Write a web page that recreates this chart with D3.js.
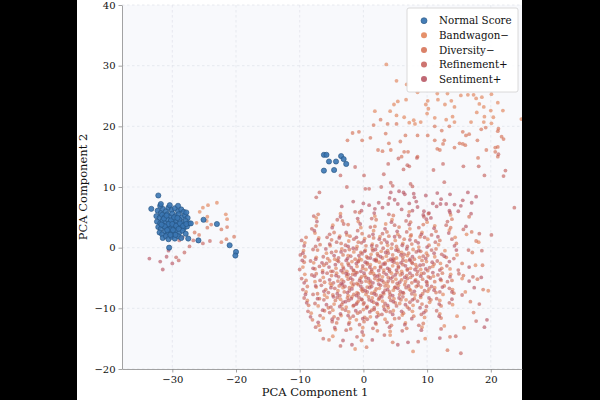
<!DOCTYPE html>
<html>
<head>
<meta charset="utf-8">
<script src="https://cdn.jsdelivr.net/npm/d3@7"></script>
<style>
  html, body { margin: 0; padding: 0; background: #000; }
  svg { display: block; }
  text { font-family: "DejaVu Serif", serif; fill: #111; }
</style>
</head>
<body>
<svg id="chart" width="600" height="400"></svg>
<script>
// series names, as in the legend
var seriesNames = ["Normal Score", "Bandwagon\u2212", "Diversity\u2212", "Refinement+", "Sentiment+"];
var seriesColors = ["#3a76b2", "#e07c50", "#d46b4d", "#c45c57", "#b44e5c"];

var xTicks = [-30, -20, -10, 0, 10, 20];
var yTicks = [-20, -10, 0, 10, 20, 30, 40];

// [pc1, pc2]
var normalScore = [
  [-32.3,6.1],[-31.8,5.7],[-31.5,6.4],[-31.0,6.0],[-30.6,6.6],[-30.1,6.2],[-29.6,6.5],[-29.1,6.0],[-28.6,6.3],[-28.2,5.9],
  [-32.5,5.2],[-32.0,4.9],[-31.6,5.4],[-31.2,5.0],[-30.8,5.5],[-30.4,5.1],[-30.0,5.6],[-29.5,5.2],[-29.0,5.5],[-28.5,5.0],[-28.0,5.3],[-27.6,4.9],
  [-32.4,4.3],[-31.9,4.0],[-31.5,4.5],[-31.1,4.1],[-30.7,4.6],[-30.3,4.2],[-29.8,4.7],[-29.4,4.3],[-28.9,4.6],[-28.4,4.1],[-27.9,4.4],[-27.4,4.0],
  [-32.2,3.4],[-31.8,3.1],[-31.4,3.6],[-30.9,3.2],[-30.5,3.7],[-30.1,3.3],[-29.6,3.8],[-29.2,3.4],[-28.7,3.7],[-28.2,3.2],[-27.7,3.5],
  [-32.0,2.5],[-31.6,2.2],[-31.1,2.7],[-30.7,2.3],[-30.3,2.8],[-29.8,2.4],[-29.4,2.9],[-28.9,2.5],[-28.4,2.8],[-27.9,2.3],
  [-31.5,1.6],[-31.0,1.9],[-30.6,1.4],[-30.1,1.8],[-29.6,1.5],[-29.1,1.9],[-28.6,1.6],
  [-31.3,4.8],[-30.9,5.3],[-30.2,4.5],[-29.7,5.0],[-29.2,4.9],[-30.6,3.9],[-30.0,3.9],[-29.4,3.6],[-31.2,3.5],[-30.4,3.0],
  [-29.9,2.9],[-29.0,3.1],[-28.8,4.0],[-31.7,3.8],[-30.8,2.9],[-29.5,2.1],[-30.3,2.1],[-28.3,3.6],[-27.8,3.9],
  [-31.9,6.9],[-30.4,7.0],[-29.1,6.9],
  [-32.2,8.6],[-31.8,7.2],[-33.3,6.4],[-25.1,4.6],[-23.0,3.9],[-27.5,1.5],[-25.9,1.2],[-30.5,0.0],
  [-21.0,0.4],[-20.0,-0.7],[-20.1,-1.3],[-27.1,4.0],[-27.8,5.8],
  [-6.2,15.3],[-5.8,15.3],[-3.5,15.1],[-3.1,14.6],[-5.4,14.2],[-4.3,14.2],[-2.7,13.8],[-6.2,12.7],[-4.6,12.8]
];

var bandwagon = [
  [3.6,30.2],[5.2,27.5],[6.8,26.9],[8.5,25.6],[11.6,25.4],[13.2,25.4],[15.3,25.1],[16.4,25.2],[17.3,25.2],[17.7,24.6],
  [20.1,25.3],[11.7,24.4],[10.1,24.2],[6.7,24.4],[5.4,24.1],[4.8,23.6],[9.8,23.6],[12.8,23.6],[13.8,24.2],[18.6,24.8],
  [18.2,23.7],[21.1,23.9],[18.9,23.2],[20.0,22.6],[21.9,22.6],[10.2,22.9],[14.3,23.2],[1.8,22.5],[4.2,22.5],[5.2,21.8],
  [10.0,22.1],[17.8,22.3],[19.0,21.6],[20.4,21.5],[6.4,21.5],[7.2,20.6],[8.1,20.4],[7.9,21.0],[9.0,20.7],[11.2,21.4],
  [13.0,21.1],[14.0,21.6],[14.3,20.7],[16.9,20.7],[18.9,20.7],[20.1,20.5],[24.8,21.2],
  [-7.4,4.9],[-3.6,5.6],[-0.8,4.3],[1.8,5.2],[4.5,4.6],[7.2,5.9],[10.0,4.2],[13.7,5.4],
  [-7.6,2.4],[-4.8,3.7],[-2.6,2.1],[-0.4,3.3],[1.6,2.8],[3.5,3.9],[5.4,2.2],[7.3,3.1],[9.2,2.5],[11.2,3.6],[13.5,2.9],[16.2,2.2],
  [-9.2,0.8],[-7.0,1.6],[-5.2,0.3],[-3.7,1.9],[-2.3,1.1],[-1.0,0.2],[0.2,1.5],[1.4,0.6],[2.6,1.8],[3.8,0.4],[5.0,1.2],[6.2,0.7],
  [7.4,1.9],[8.7,0.1],[10.1,1.4],[11.8,0.5],[14.4,1.7],[18.1,0.9],
  [-9.4,-0.5],[-7.4,-1.6],[-5.8,-0.9],[-4.5,-1.9],[-3.4,-0.2],[-2.4,-1.3],[-1.5,-0.7],[-0.6,-1.8],[0.3,-0.4],[1.2,-1.1],[2.0,-1.9],[2.8,-0.6],
  [3.6,-1.4],[4.4,-0.1],[5.2,-1.7],[6.0,-0.8],[6.9,-1.3],[7.8,-0.3],[8.8,-1.6],[9.9,-0.9],[11.2,-1.5],[12.8,-0.5],[14.7,-1.2],
  [-9.5,-3.2],[-7.8,-2.5],[-6.4,-3.8],[-5.3,-2.2],[-4.3,-3.4],[-3.4,-2.7],[-2.6,-3.9],[-1.8,-2.3],[-1.0,-3.1],[-0.3,-2.0],[0.4,-3.6],[1.1,-2.8],
  [1.8,-3.3],[2.5,-2.4],[3.2,-3.7],[3.9,-2.1],[4.6,-3.0],[5.3,-2.6],[6.0,-3.9],[6.7,-2.2],[7.4,-3.4],[8.2,-2.8],[9.0,-3.6],[9.9,-2.3],
  [10.9,-3.1],[12.1,-2.6],[13.6,-3.5],[17.6,-2.9],
  [-9.2,-4.4],[-7.6,-5.6],[-6.3,-4.9],[-5.2,-5.9],[-4.2,-4.2],[-3.4,-5.3],[-2.6,-4.7],[-1.9,-5.8],[-1.2,-4.1],[-0.5,-5.1],[0.2,-4.6],[0.9,-5.7],
  [1.6,-4.3],[2.3,-5.4],[3.0,-4.8],[3.7,-5.9],[4.4,-4.2],[5.1,-5.2],[5.8,-4.5],[6.6,-5.6],[7.4,-4.9],[8.2,-5.3],[9.1,-4.3],[10.0,-5.8],
  [11.0,-4.7],[12.2,-5.4],[13.7,-4.4],[15.5,-5.1],
  [-9.0,-7.3],[-7.4,-6.5],[-6.1,-7.8],[-5.0,-6.2],[-4.0,-7.1],[-3.2,-6.6],[-2.4,-7.9],[-1.7,-6.3],[-1.0,-7.4],[-0.3,-6.9],[0.4,-7.7],[1.1,-6.1],
  [1.8,-7.2],[2.5,-6.7],[3.2,-7.6],[3.9,-6.4],[4.7,-7.0],[5.5,-6.2],[6.3,-7.5],[7.2,-6.8],[8.1,-7.8],[9.1,-6.5],[10.1,-7.2],[11.2,-6.6],
  [12.5,-7.7],[14.0,-6.9],[16.0,-7.3],[19.6,-7.1],
  [-8.8,-8.7],[-7.1,-9.6],[-5.7,-8.2],[-4.6,-9.3],[-3.6,-8.5],[-2.7,-9.8],[-1.8,-8.1],[-1.0,-9.1],[-0.2,-8.6],[0.6,-9.7],[1.4,-8.3],
  [2.2,-9.4],[3.0,-8.8],[3.9,-9.9],[4.8,-8.4],[5.7,-9.2],[6.7,-8.6],[7.8,-9.5],[9.0,-8.2],[10.4,-9.0],[12.0,-8.7],[14.0,-9.4],
  [-8.2,-10.8],[-6.3,-11.6],[-4.8,-10.3],[-3.5,-11.2],[-2.3,-10.6],[-1.1,-11.9],[0.0,-10.2],[1.1,-11.4],[2.2,-10.7],[3.4,-11.8],
  [4.7,-10.4],[6.1,-11.1],[7.7,-10.5],[9.6,-11.5],[12.0,-10.9],[14.7,-11.3],
  [-7.0,-12.8],[-4.4,-13.5],[-2.2,-12.3],[-0.1,-13.2],[2.0,-12.6],[4.2,-13.8],[6.6,-12.4],[9.2,-13.1],[12.7,-12.9],
  [-4.8,-14.6],[-0.3,-15.3],[4.2,-14.4],[9.7,-15.0],[-1.3,-16.7],[7.8,-17.1],
  [-23.0,7.4],[-24.4,7.0],[-25.2,6.6],[-25.7,5.9],[-21.6,5.5],[-24.5,5.1],[-21.4,4.7],[-24.6,4.4],[-26.2,4.1]
];

var diversity = [
  [21.1,19.2],[21.2,19.6],[21.7,18.3],[22.0,17.9],[-1.7,18.9],[-0.7,19.1],[1.1,18.1],[-2.5,17.7],[-0.2,17.7],[3.5,18.8],
  [4.0,17.2],[5.8,17.5],[6.6,18.5],[8.5,18.5],[10.1,18.5],[11.2,17.7],[12.7,17.7],[15.1,17.2],[16.1,18.5],[16.6,18.7],
  [17.9,17.7],[20.7,16.5],[20.7,15.8],[21.1,16.6],[19.3,16.1],[15.6,17.1],[2.3,16.1],[3.0,15.9],[4.3,16.1],[6.4,15.8],
  [11.6,16.3],[12.0,16.1],[14.3,16.5],[16.0,16.9],[6.0,15.0],[8.5,15.0],[18.0,14.8],[21.1,15.0],[2.7,21.1],[3.8,20.4],
  [1.6,20.2],[5.2,20.4],[11.2,20.0],[12.3,19.3],[13.5,20.0],[15.6,19.1],[18.5,19.5],[19.2,19.8],[7.0,15.8],[12.5,17.1],
  [-7.1,5.5],[-3.3,4.4],[-0.6,5.8],[2.0,4.6],[4.7,5.3],[7.4,4.2],[10.2,5.6],[13.9,4.7],[16.6,5.1],
  [-7.4,3.6],[-4.6,2.5],[-2.4,3.8],[-0.2,2.3],[1.8,3.5],[3.7,2.6],[5.6,3.4],[7.5,2.1],[9.4,3.8],[11.4,2.7],[13.7,3.3],[17.0,2.6],
  [-9.0,1.7],[-6.8,0.5],[-5.0,1.3],[-3.5,0.7],[-2.1,1.9],[-0.8,0.9],[0.4,0.3],[1.6,1.6],[2.8,0.8],[4.0,1.9],[5.2,0.2],[6.4,1.4],
  [7.6,0.6],[8.9,1.8],[10.3,0.4],[12.0,1.2],[14.6,0.7],[17.7,1.1],
  [-9.2,-1.5],[-7.2,-0.4],[-5.6,-1.8],[-4.3,-0.6],[-3.2,-1.2],[-2.2,-0.3],[-1.3,-1.9],[-0.4,-0.8],[0.5,-1.5],[1.4,-0.2],[2.2,-1.0],[3.0,-1.7],
  [3.8,-0.5],[4.6,-1.2],[5.4,-0.3],[6.2,-1.6],[7.1,-0.9],[8.0,-1.9],[9.0,-0.6],[10.1,-1.3],[11.4,-0.2],[13.0,-1.6],[17.1,-0.8],
  [-9.3,-2.4],[-7.6,-3.5],[-6.2,-2.9],[-5.1,-3.9],[-4.1,-2.1],[-3.2,-3.2],[-2.4,-2.6],[-1.6,-3.7],[-0.8,-2.3],[-0.1,-3.4],[0.6,-2.7],[1.3,-3.9],
  [2.0,-2.2],[2.7,-3.1],[3.4,-2.5],[4.1,-3.6],[4.8,-2.0],[5.5,-3.3],[6.2,-2.8],[6.9,-3.7],[7.6,-2.4],[8.4,-3.2],[9.2,-2.1],[10.1,-3.8],
  [11.1,-2.7],[12.3,-3.4],[15.5,-2.6],[18.7,-2.9],
  [-9.0,-5.4],[-7.4,-4.3],[-6.1,-5.7],[-5.0,-4.6],[-4.0,-5.5],[-3.2,-4.1],[-2.4,-5.2],[-1.7,-4.4],[-1.0,-5.9],[-0.3,-4.8],[0.4,-5.5],[1.1,-4.2],
  [1.8,-5.1],[2.5,-4.5],[3.2,-5.7],[3.9,-4.9],[4.6,-5.6],[5.3,-4.1],[6.0,-5.3],[6.8,-4.6],[7.6,-5.8],[8.4,-4.4],[9.3,-5.2],[10.2,-4.8],
  [11.2,-5.6],[12.4,-4.2],[13.9,-5.4],[15.7,-4.6],[17.9,-5.2],
  [-8.8,-6.4],[-7.2,-7.6],[-5.9,-6.9],[-4.8,-7.8],[-3.8,-6.3],[-3.0,-7.3],[-2.2,-6.6],[-1.5,-7.7],[-0.8,-6.1],[-0.1,-7.2],[0.6,-6.5],[1.3,-7.5],
  [2.0,-6.8],[2.7,-7.9],[3.4,-6.3],[4.1,-7.3],[4.9,-6.6],[5.7,-7.7],[6.5,-6.1],[7.4,-7.0],[8.3,-6.4],[9.3,-7.6],[10.3,-6.8],[11.4,-7.4],
  [12.7,-6.3],[14.2,-7.5],[18.8,-6.9],
  [-8.6,-9.5],[-6.9,-8.4],[-5.5,-9.9],[-4.4,-8.7],[-3.4,-9.4],[-2.5,-8.3],[-1.6,-9.6],[-0.8,-8.8],[0.0,-9.3],[0.8,-8.1],[1.6,-9.0],
  [2.4,-8.5],[3.2,-9.7],[4.1,-8.2],[5.0,-9.1],[5.9,-8.6],[6.9,-9.8],[8.0,-8.4],[9.2,-9.3],[10.6,-8.6],[12.2,-9.6],[16.8,-8.9],
  [-8.0,-11.9],[-6.1,-10.4],[-4.6,-11.4],[-3.3,-10.1],[-2.1,-11.6],[-0.9,-10.8],[0.2,-11.5],[1.3,-10.3],[2.4,-11.1],[3.6,-10.5],
  [4.9,-11.7],[6.3,-10.8],[7.9,-11.3],[9.8,-10.4],[12.2,-11.6],[17.3,-10.7],
  [-6.8,-13.6],[-4.2,-12.4],[-2.0,-13.4],[0.1,-12.2],[2.2,-13.7],[4.4,-12.8],[6.8,-13.3],[9.4,-12.5],[15.8,-13.2],
  [-5.4,-15.2],[0.0,-14.4],[4.6,-15.6],[13.6,-14.7],[0.5,-16.4],[13.2,-16.9],
  [-23.9,3.8],[-24.5,3.3],[-21.4,3.4],[-22.3,3.0],[-26.5,2.5],[-25.8,2.1],[-20.3,1.8],[-21.5,1.4],[-22.3,0.9]
];

var refinement = [
  [-1.3,13.3],[-3.6,11.9],[0.1,11.9],[-2.6,10.0],[-6.9,9.1],[-7.4,8.3],[2.8,10.0],[0.3,9.7],[0.9,9.7],[4.3,10.7],
  [4.6,10.2],[3.2,12.1],[3.9,13.8],[5.5,14.7],[6.9,13.6],[8.4,14.8],[7.2,13.4],[11.0,12.8],[12.5,13.8],[15.7,13.4],
  [18.1,13.4],[19.0,11.9],[21.2,15.4],[22.3,12.7],[22.0,11.8],[12.7,10.8],[7.4,10.5],[7.7,10.1],[23.7,6.6],[20.1,2.1],[6.3,12.9],
  [-7.8,5.2],[-4.1,4.6],[-1.3,5.9],[1.3,4.8],[4.0,5.5],[6.7,4.4],[9.5,5.1],[13.2,4.3],
  [-8.1,3.1],[-5.3,2.2],[-3.1,3.9],[-0.9,2.8],[1.1,3.4],[3.0,2.3],[4.9,3.7],[6.8,2.6],[8.7,3.3],[10.7,2.1],[13.0,3.7],[15.7,3.0],[18.2,2.3],
  [-9.7,1.2],[-7.5,0.2],[-5.7,1.7],[-4.2,0.9],[-2.8,0.4],[-1.5,1.4],[-0.3,0.8],[0.9,1.9],[2.1,0.3],[3.3,1.3],[4.5,0.6],[5.7,1.8],
  [6.9,0.2],[8.2,1.1],[9.6,1.7],[11.3,0.9],[13.9,1.4],
  [-9.9,-1.2],[-7.9,-0.3],[-6.3,-1.5],[-5.0,-0.8],[-3.9,-1.7],[-2.9,-0.5],[-2.0,-1.4],[-1.1,-0.2],[-0.2,-1.0],[0.7,-1.7],[1.5,-0.5],[2.3,-1.3],
  [3.1,-0.1],[3.9,-0.9],[4.7,-1.8],[5.5,-0.6],[6.4,-1.1],[7.3,-1.9],[8.3,-0.7],[9.4,-1.4],[10.7,-0.4],[12.3,-1.1],[14.2,-1.8],[16.5,-0.4],[18.6,-0.5],
  [-10.0,-3.6],[-8.3,-2.2],[-6.9,-3.1],[-5.8,-2.6],[-4.8,-3.9],[-3.9,-2.3],[-3.1,-3.5],[-2.3,-2.9],[-1.5,-3.8],[-0.8,-2.2],[-0.1,-3.0],[0.6,-2.5],
  [1.3,-3.6],[2.0,-2.1],[2.7,-3.3],[3.4,-2.7],[4.1,-3.9],[4.8,-2.4],[5.5,-3.1],[6.2,-2.1],[6.9,-3.5],[7.7,-2.6],[8.5,-3.9],[9.4,-2.8],
  [10.4,-3.3],[11.6,-2.2],[13.1,-3.0],[14.9,-3.7],
  [-9.7,-5.1],[-8.1,-4.5],[-6.8,-5.4],[-5.7,-4.2],[-4.7,-5.8],[-3.9,-4.8],[-3.1,-5.6],[-2.4,-4.4],[-1.7,-5.3],[-1.0,-4.1],[-0.3,-5.7],[0.4,-4.9],
  [1.1,-5.5],[1.8,-4.6],[2.5,-5.2],[3.2,-4.1],[3.9,-5.5],[4.6,-4.8],[5.3,-5.9],[6.1,-4.3],[6.9,-5.1],[7.7,-4.6],[8.6,-5.7],[9.5,-4.2],
  [10.5,-5.0],[11.7,-4.5],[13.2,-5.6],[15.0,-4.3],[17.2,-4.8],
  [-9.5,-6.9],[-7.9,-7.7],[-6.6,-6.2],[-5.5,-7.4],[-4.5,-6.7],[-3.7,-7.9],[-2.9,-6.4],[-2.2,-7.1],[-1.5,-6.0],[-0.8,-7.6],[-0.1,-6.8],[0.6,-7.3],
  [1.3,-6.4],[2.0,-7.8],[2.7,-6.2],[3.4,-7.0],[4.2,-7.7],[5.0,-6.5],[5.8,-7.2],[6.7,-6.6],[7.6,-7.6],[8.6,-6.2],[9.6,-7.1],[10.7,-6.4],
  [12.0,-7.3],[13.5,-6.7],[15.5,-7.8],
  [-9.3,-8.3],[-7.6,-9.2],[-6.2,-8.6],[-5.1,-9.8],[-4.1,-8.2],[-3.2,-9.0],[-2.3,-8.7],[-1.5,-9.5],[-0.7,-8.2],[0.1,-9.1],[0.9,-8.6],
  [1.7,-9.9],[2.5,-8.3],[3.4,-9.2],[4.3,-8.7],[5.2,-9.6],[6.2,-8.1],[7.3,-9.0],[8.5,-8.8],[9.9,-9.7],[11.5,-8.4],[13.5,-9.1],[18.2,-9.3],
  [-8.7,-10.5],[-6.8,-11.2],[-5.3,-10.7],[-4.0,-11.7],[-2.8,-10.3],[-1.6,-11.3],[-0.5,-10.6],[0.6,-11.8],[1.7,-10.2],[2.9,-11.0],
  [4.2,-10.6],[5.6,-11.6],[7.2,-10.1],[9.1,-11.0],[11.5,-10.4],[17.7,-12.1],
  [-7.5,-13.1],[-4.9,-12.2],[-2.7,-13.6],[-0.6,-12.7],[1.5,-13.3],[3.7,-12.3],[6.1,-13.7],[8.7,-12.8],[12.2,-13.4],
  [-6.3,-15.0],[-1.0,-14.7],[3.3,-14.4],[8.6,-15.5],[14.5,-14.6],[-3.6,-16.2],[15.3,-17.4],
  [-24.1,1.1],[-25.2,0.7],[-26.7,1.2],[-28.4,1.7],[-28.9,1.2],[-27.3,0.2],[-28.1,-0.8],[-29.4,-1.6],[-29.0,-2.1]
];

var sentiment = [
  [6.3,9.1],[6.5,8.8],[9.8,8.6],[11.6,9.0],[13.6,8.8],[16.4,9.1],[17.7,8.4],[17.0,7.4],[15.6,7.8],[15.3,6.9],
  [12.2,8.0],[12.1,7.2],[10.9,7.3],[11.5,6.8],[13.0,7.2],[14.3,7.1],[7.9,8.9],[8.0,8.3],[7.2,7.3],[8.3,7.6],
  [8.5,6.7],[9.5,6.0],[10.3,5.7],[13.5,6.1],[14.9,6.0],[16.9,5.6],[9.4,5.4],[10.6,4.9],[0.0,7.3],[-0.3,6.1],
  [2.4,7.4],[4.3,9.1],[5.6,9.3],[4.1,8.2],[4.9,7.9],[5.4,7.2],[3.9,7.2],[0.9,7.0],
  [-3.4,6.8],[-1.6,7.6],[1.8,6.4],[3.0,6.6],[6.0,6.3],[7.7,6.1],
  [-7.3,4.3],[-3.6,5.1],[-0.9,4.8],[1.7,5.7],[4.4,4.2],[7.1,5.3],[9.9,4.7],[13.6,5.8],
  [-7.7,2.8],[-4.9,3.3],[-2.7,2.5],[-0.5,3.9],[1.5,2.2],[3.4,3.1],[5.3,2.7],[7.2,3.8],[9.1,2.2],[11.1,3.2],[13.4,2.4],[16.1,3.5],
  [-9.3,0.3],[-7.1,1.3],[-5.3,0.6],[-3.8,1.6],[-2.4,0.2],[-1.1,1.7],[0.1,1.1],[1.3,0.3],[2.5,1.4],[3.7,0.9],[4.9,1.8],[6.1,0.4],
  [7.3,1.3],[8.6,0.8],[10.0,0.1],[11.7,1.8],[14.3,0.3],
  [-9.5,-0.9],[-7.5,-1.9],[-5.9,-0.2],[-4.6,-1.3],[-3.5,-0.7],[-2.5,-1.8],[-1.6,-0.1],[-0.7,-1.3],[0.2,-0.6],[1.1,-1.7],[1.9,-0.3],[2.7,-1.5],
  [3.5,-0.8],[4.3,-1.9],[5.1,-0.4],[5.9,-1.2],[6.8,-0.2],[7.7,-1.5],[8.7,-0.5],[9.8,-1.8],[11.1,-0.9],[12.7,-1.4],[14.6,-0.4],
  [-9.6,-2.1],[-7.9,-3.4],[-6.5,-2.5],[-5.4,-3.2],[-4.4,-2.8],[-3.5,-3.8],[-2.7,-2.1],[-1.9,-3.3],[-1.1,-2.6],[-0.4,-3.9],[0.3,-2.4],[1.0,-3.2],
  [1.7,-2.0],[2.4,-3.8],[3.1,-2.7],[3.8,-3.4],[4.5,-2.2],[5.2,-3.7],[5.9,-2.5],[6.6,-3.0],[7.3,-2.1],[8.1,-3.6],[8.9,-2.9],[9.8,-3.5],
  [10.8,-2.4],[12.0,-3.7],[13.5,-2.3],[16.6,-3.2],
  [-9.3,-5.8],[-7.7,-4.7],[-6.4,-4.1],[-5.3,-5.3],[-4.3,-4.6],[-3.5,-5.9],[-2.7,-4.3],[-2.0,-5.0],[-1.3,-4.5],[-0.6,-5.4],[0.1,-4.2],[0.8,-5.1],
  [1.5,-5.8],[2.2,-4.7],[2.9,-5.4],[3.6,-4.4],[4.3,-5.1],[5.0,-4.5],[5.7,-5.7],[6.5,-4.9],[7.3,-4.2],[8.1,-5.5],[9.0,-4.7],[9.9,-5.6],
  [10.9,-4.1],[12.1,-5.2],[13.6,-4.8],[16.6,-5.5],[18.5,-4.9],
  [-9.1,-7.7],[-7.5,-6.3],[-6.2,-7.2],[-5.1,-6.6],[-4.1,-7.6],[-3.3,-6.1],[-2.5,-7.4],[-1.8,-6.8],[-1.1,-7.9],[-0.4,-6.4],[0.3,-7.1],[1.0,-6.6],
  [1.7,-7.6],[2.4,-6.0],[3.1,-7.4],[3.8,-6.9],[4.6,-7.9],[5.4,-6.7],[6.2,-7.4],[7.1,-6.3],[8.0,-7.2],[9.0,-7.9],[10.0,-6.2],[11.1,-7.0],
  [12.4,-6.5],[13.9,-7.3],[17.4,-6.6],
  [-8.9,-9.1],[-7.2,-8.4],[-5.8,-9.4],[-4.7,-8.1],[-3.7,-9.7],[-2.8,-8.9],[-1.9,-8.4],[-1.1,-9.3],[-0.3,-8.5],[0.5,-9.9],[1.3,-8.8],
  [2.1,-9.2],[2.9,-8.1],[3.8,-9.5],[4.7,-8.9],[5.6,-8.3],[6.6,-9.4],[7.7,-8.6],[8.9,-9.9],[10.3,-8.3],[11.9,-9.3],[13.9,-8.5],
  [-8.3,-11.4],[-6.4,-10.3],[-4.9,-11.8],[-3.6,-10.9],[-2.4,-11.2],[-1.2,-10.4],[-0.1,-11.7],[1.0,-10.6],[2.1,-11.4],[3.3,-10.2],
  [4.6,-11.0],[6.0,-10.5],[7.6,-11.7],[9.5,-10.7],[11.9,-11.3],[19.4,-11.9],
  [-7.1,-12.3],[-4.5,-13.2],[-2.3,-12.6],[-0.2,-13.9],[1.9,-12.4],[4.1,-13.1],[6.5,-12.7],[9.1,-13.6],[19.0,-13.1],
  [-3.2,-15.3],[1.4,-15.2],[7.0,-15.6],[12.0,-14.9],[-1.8,-16.0],[5.4,-16.0],
  [-30.9,-1.5],[-31.9,-2.3],[-33.6,-1.8],[-30.0,-2.6],[-31.5,-3.6],[-30.6,-0.5],[-30.9,1.9],[-30.2,1.8]
];

var plot = { left: 122, right: 522, top: 5, bottom: 369 };

var svg = d3.select("#chart");

// figure area (black bars left and right)
svg.append("rect")
  .attr("x", 77).attr("y", 0)
  .attr("width", 445).attr("height", 400)
  .attr("fill", "#fff");

var x = d3.scaleLinear().domain([-37.9, 24.9]).range([plot.left, plot.right]);
var y = d3.scaleLinear().domain([-20, 40]).range([plot.bottom, plot.top]);

svg.append("rect")
  .attr("x", plot.left).attr("y", plot.top)
  .attr("width", plot.right - plot.left).attr("height", plot.bottom - plot.top)
  .attr("fill", "#f8f9fc");

svg.append("clipPath").attr("id", "clip")
  .append("rect")
  .attr("x", plot.left).attr("y", plot.top)
  .attr("width", plot.right - plot.left).attr("height", plot.bottom - plot.top);

// grid
var grid = svg.append("g").attr("class", "grid");
grid.selectAll("line.gx").data(xTicks).enter().append("line")
  .attr("x1", d => x(d)).attr("x2", d => x(d))
  .attr("y1", plot.top).attr("y2", plot.bottom);
grid.selectAll("line.gy").data(yTicks).enter().append("line")
  .attr("y1", d => y(d)).attr("y2", d => y(d))
  .attr("x1", plot.left).attr("x2", plot.right);
grid.selectAll("line")
  .attr("stroke", "#dfe3ea").attr("stroke-width", 0.7)
  .attr("stroke-dasharray", "2.5,2.5");

var fmt = d => d < 0 ? "\u2212" + Math.abs(d) : "" + d;

// points
var layer = svg.append("g").attr("clip-path", "url(#clip)");
var orange = [bandwagon, diversity, refinement, sentiment];
orange.forEach((pts, i) => {
  layer.append("g").selectAll("circle")
    .data(pts).enter().append("circle")
    .attr("cx", d => x(d[0])).attr("cy", d => y(d[1]))
    .attr("r", 1.9)
    .attr("fill", seriesColors[i + 1])
    .attr("fill-opacity", 0.62);
});
layer.append("g").selectAll("circle")
  .data(normalScore).enter().append("circle")
  .attr("cx", d => x(d[0])).attr("cy", d => y(d[1]))
  .attr("r", 2.6)
  .attr("fill", seriesColors[0])
  .attr("fill-opacity", 0.9)
  .attr("stroke", "#23507e").attr("stroke-width", 0.6);

// axes
var xAxis = svg.append("g")
  .attr("transform", "translate(0," + plot.bottom + ")")
  .call(d3.axisBottom(x).tickValues(xTicks).tickFormat(fmt).tickSize(3.5).tickSizeOuter(0));
var yAxis = svg.append("g")
  .attr("transform", "translate(" + plot.left + ",0)")
  .call(d3.axisLeft(y).tickValues(yTicks).tickFormat(fmt).tickSize(3.5).tickSizeOuter(0));

[xAxis, yAxis].forEach(a => {
  a.select(".domain").attr("stroke", "#8c8c8c").attr("stroke-width", 0.8);
  a.selectAll(".tick line").attr("stroke", "#8c8c8c").attr("stroke-width", 0.8);
  a.selectAll(".tick text")
    .attr("font-family", "DejaVu Serif, serif")
    .attr("font-size", 10).attr("fill", "#111");
});

svg.append("text")
  .attr("x", 315).attr("y", 396)
  .attr("text-anchor", "middle")
  .attr("font-size", 11.5)
  .text("PCA Component 1");

svg.append("text")
  .attr("transform", "translate(87," + ((plot.top + plot.bottom) / 2) + ") rotate(-90)")
  .attr("text-anchor", "middle")
  .attr("font-size", 11.5)
  .text("PCA Component 2");

// legend
var legend = svg.append("g");
legend.append("rect")
  .attr("x", 407).attr("y", 8)
  .attr("width", 111).attr("height", 84)
  .attr("rx", 2)
  .attr("fill", "#fff").attr("fill-opacity", 0.9)
  .attr("stroke", "#d0d0d0").attr("stroke-width", 0.8);

var item = legend.selectAll("g.item").data(seriesNames).enter().append("g")
  .attr("transform", (d, i) => "translate(424," + (20.7 + i * 14.6) + ")");
item.append("circle")
  .attr("r", 3)
  .attr("fill", (d, i) => seriesColors[i])
  .attr("fill-opacity", (d, i) => i === 0 ? 0.95 : 0.85)
  .attr("stroke", (d, i) => i === 0 ? "#23507e" : "none")
  .attr("stroke-width", 0.6);
item.append("text")
  .attr("x", 15).attr("y", 3.6)
  .attr("font-size", 10.3)
  .text(d => d);
</script>
</body>
</html>
